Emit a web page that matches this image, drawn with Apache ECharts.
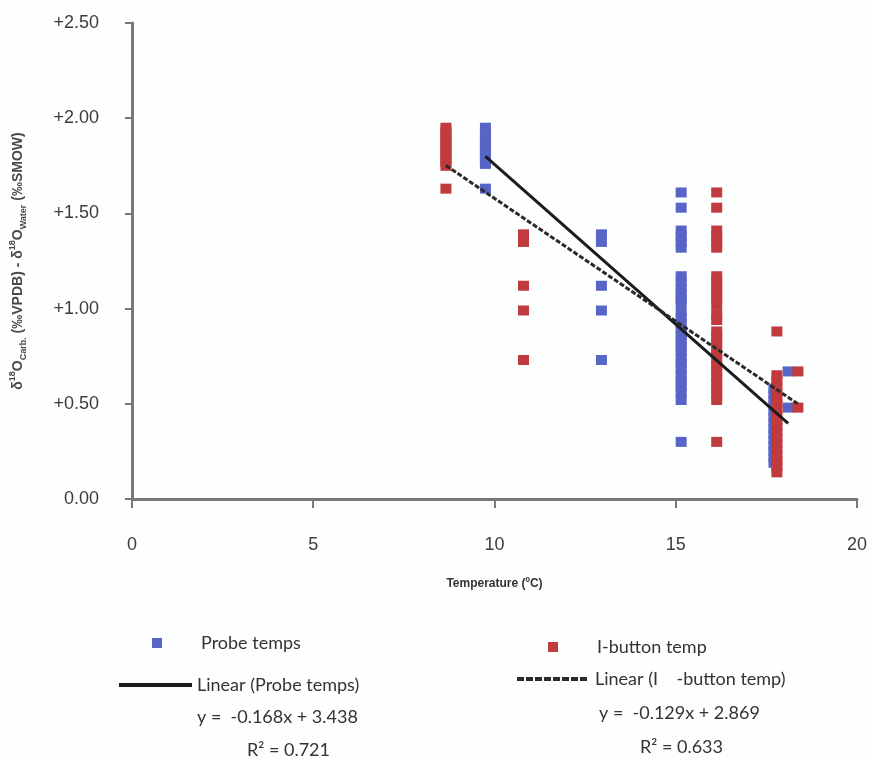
<!DOCTYPE html>
<html>
<head>
<meta charset="utf-8">
<script src="https://cdn.jsdelivr.net/npm/echarts@6/dist/echarts.min.js"></script>
<style>
html,body{margin:0;padding:0;background:#fdfefe;}
#chart{width:870px;height:759px;}
</style>
</head>
<body>
<div id="chart"></div>
<script>
// ---- Data ----
const probeTemps = [9.75, 12.95, 15.15, 17.71, 18.1];
const probeValues = [
  [1.63, 1.76, 1.78, 1.80, 1.82, 1.84, 1.86, 1.88, 1.90, 1.92, 1.95],
  [1.39, 1.35, 1.12, 0.99, 0.73],
  [1.61, 1.53, 1.41, 1.38, 1.35, 1.32, 1.17, 1.14, 1.11, 1.08, 1.05, 1.03, 0.98, 0.95, 0.92, 0.89, 0.86, 0.83, 0.80, 0.77, 0.74, 0.71, 0.68, 0.65, 0.62, 0.59, 0.56, 0.52, 0.30],
  [0.58, 0.55, 0.52, 0.49, 0.46, 0.43, 0.40, 0.37, 0.34, 0.31, 0.28, 0.25, 0.22, 0.19],
  [0.67, 0.48]
];
const ibuttonTemps = [8.66, 10.8, 16.13, 17.79, 18.37];
const ibuttonValues = [
  [1.63, 1.75, 1.77, 1.79, 1.81, 1.83, 1.85, 1.87, 1.89, 1.91, 1.93, 1.95],
  [1.39, 1.35, 1.12, 0.99, 0.73],
  [1.61, 1.53, 1.41, 1.38, 1.35, 1.32, 1.17, 1.14, 1.11, 1.08, 1.05, 1.02, 0.97, 0.94, 0.88, 0.85, 0.82, 0.79, 0.76, 0.73, 0.70, 0.67, 0.64, 0.61, 0.58, 0.55, 0.52, 0.30],
  [0.88, 0.65, 0.62, 0.59, 0.56, 0.53, 0.50, 0.47, 0.44, 0.41, 0.38, 0.35, 0.32, 0.29, 0.26, 0.23, 0.20, 0.17, 0.14],
  [0.67, 0.48]
];
const probeFit = { slope: -0.168, intercept: 3.438, r2: 0.721 };
const ibuttonFit = { slope: -0.129, intercept: 2.869, r2: 0.633 };
const xTicks = [0, 5, 10, 15, 20];
const yTicks = [0, 0.5, 1.0, 1.5, 2.0, 2.5];

// ---- Build series data ----
function toPoints(temps, values) {
  const pts = [];
  temps.forEach((t, i) => values[i].forEach(v => pts.push([t, v])));
  return pts;
}
function fitLine(temps, fit) {
  const lo = Math.min.apply(null, temps), hi = Math.max.apply(null, temps);
  return [[lo, fit.slope * lo + fit.intercept], [hi, fit.slope * hi + fit.intercept]];
}
function eqText(fit) { return 'y =  ' + fit.slope.toFixed(3) + 'x + ' + fit.intercept.toFixed(3); }
const probePts = toPoints(probeTemps, probeValues);
const ibuttonPts = toPoints(ibuttonTemps, ibuttonValues);

const BLUE = '#5864c6', RED = '#c13a3d';
const AX = '#7c757b';
const tickFont = '"Liberation Sans", Arial, sans-serif';
const legendFont = 'Lato, "Open Sans", sans-serif';
const LFS = 18;

const chart = echarts.init(document.getElementById('chart'), null, { renderer: 'canvas' });
chart.setOption({
  animation: false,
  backgroundColor: '#fdfefe',
  grid: { left: 125, right: 13, top: 23, bottom: 260, containLabel: false },
  xAxis: {
    type: 'value', min: xTicks[0], max: xTicks[xTicks.length - 1], interval: 5,
    splitLine: { show: false },
    axisLine: { lineStyle: { color: AX, width: 3 } },
    axisTick: { show: true, length: 9, lineStyle: { color: AX, width: 2 } },
    axisLabel: { margin: 37, color: '#3c3c3c', fontSize: 18, fontFamily: tickFont },
    name: 'Temperature (ºC)', nameLocation: 'middle', nameGap: 79,
    nameTextStyle: { color: '#333', fontSize: 12, fontWeight: 'bold', fontFamily: tickFont }
  },
  yAxis: {
    type: 'value', min: yTicks[0], max: yTicks[yTicks.length - 1], interval: 0.5,
    splitLine: { show: false },
    axisLine: { show: true, lineStyle: { color: AX, width: 3 } },
    axisTick: { show: true, length: 7, lineStyle: { color: AX, width: 2 } },
    axisLabel: {
      margin: 33, color: '#3c3c3c', fontSize: 18, fontFamily: tickFont,
      formatter: v => v === 0 ? '0.00' : '+' + v.toFixed(2)
    },
    name: '{n|δ}{sup|18}{n|O}{sub|Carb.}{n| (‰VPDB) - δ}{sup|18}{n|O}{sub|Water}{n| (‰SMOW)}',
    nameLocation: 'middle', nameGap: 104, nameRotate: 90,
    nameTextStyle: {
      color: '#444',
      rich: {
        n: { fontSize: 14, fontWeight: 'bold', color: '#4a4a4a', lineHeight: 20, verticalAlign: 'middle', fontFamily: tickFont },
        sup: { fontSize: 9, fontWeight: 'bold', color: '#4a4a4a', lineHeight: 20, verticalAlign: 'top', fontFamily: tickFont },
        sub: { fontSize: 9, fontWeight: 'bold', color: '#4a4a4a', lineHeight: 20, verticalAlign: 'bottom', fontFamily: tickFont }
      }
    }
  },
  legend: [
    { data: ['Probe temps'], left: 147, top: 629, icon: 'rect', itemWidth: 10, itemHeight: 10,
      textStyle: { fontSize: LFS, color: '#333', fontFamily: legendFont, padding: [0, 0, 0, 34] } },
    { data: ['I-button temp'], left: 543, top: 633, icon: 'rect', itemWidth: 10, itemHeight: 10,
      textStyle: { fontSize: LFS, color: '#333', fontFamily: legendFont, padding: [0, 0, 0, 34] } },
    { data: ['Linear (Probe temps)'], left: 112, top: 671, itemWidth: 73, itemHeight: 20,
      itemStyle: { opacity: 0 }, lineStyle: { width: 4, color: '#1c1c1c' },
      textStyle: { fontSize: LFS, color: '#333', fontFamily: legendFont, padding: [0, 0, 0, 0] } },
    { data: ['Linear (I    -button temp)'], left: 510, top: 665, itemWidth: 70, itemHeight: 20,
      itemStyle: { opacity: 0 }, lineStyle: { width: 4, color: '#2a2a2a', type: [7, 2] },
      textStyle: { fontSize: LFS, color: '#333', fontFamily: legendFont, padding: [0, 0, 0, 3] } }
  ],
  graphic: [
    { type: 'text', left: 197, top: 708, style: { text: eqText(probeFit), font: LFS + 'px ' + legendFont, fill: '#333' } },
    { type: 'text', left: 247, top: 741, style: { text: 'R² = ' + probeFit.r2.toFixed(3), font: LFS + 'px ' + legendFont, fill: '#333' } },
    { type: 'text', left: 599, top: 704, style: { text: eqText(ibuttonFit), font: LFS + 'px ' + legendFont, fill: '#333' } },
    { type: 'text', left: 640, top: 738, style: { text: 'R² = ' + ibuttonFit.r2.toFixed(3), font: LFS + 'px ' + legendFont, fill: '#333' } }
  ],
  series: [
    { name: 'Probe temps', type: 'scatter', data: probePts, symbol: 'rect', symbolSize: [11, 10],
      itemStyle: { color: BLUE, opacity: 1 }, z: 2 },
    { name: 'I-button temp', type: 'scatter', data: ibuttonPts, symbol: 'rect', symbolSize: [11, 10],
      itemStyle: { color: RED, opacity: 1 }, z: 3 },
    { name: 'Linear (Probe temps)', type: 'line', data: fitLine(probeTemps, probeFit), symbol: 'none',
      lineStyle: { color: '#1c1c1c', width: 3 }, itemStyle: { color: '#1c1c1c' }, z: 5 },
    { name: 'Linear (I    -button temp)', type: 'line', data: fitLine(ibuttonTemps, ibuttonFit), symbol: 'none',
      lineStyle: { color: '#2a2a2a', width: 3, type: [5, 2] }, itemStyle: { color: '#2a2a2a' }, z: 5 }
  ]
});
</script>
</body>
</html>
